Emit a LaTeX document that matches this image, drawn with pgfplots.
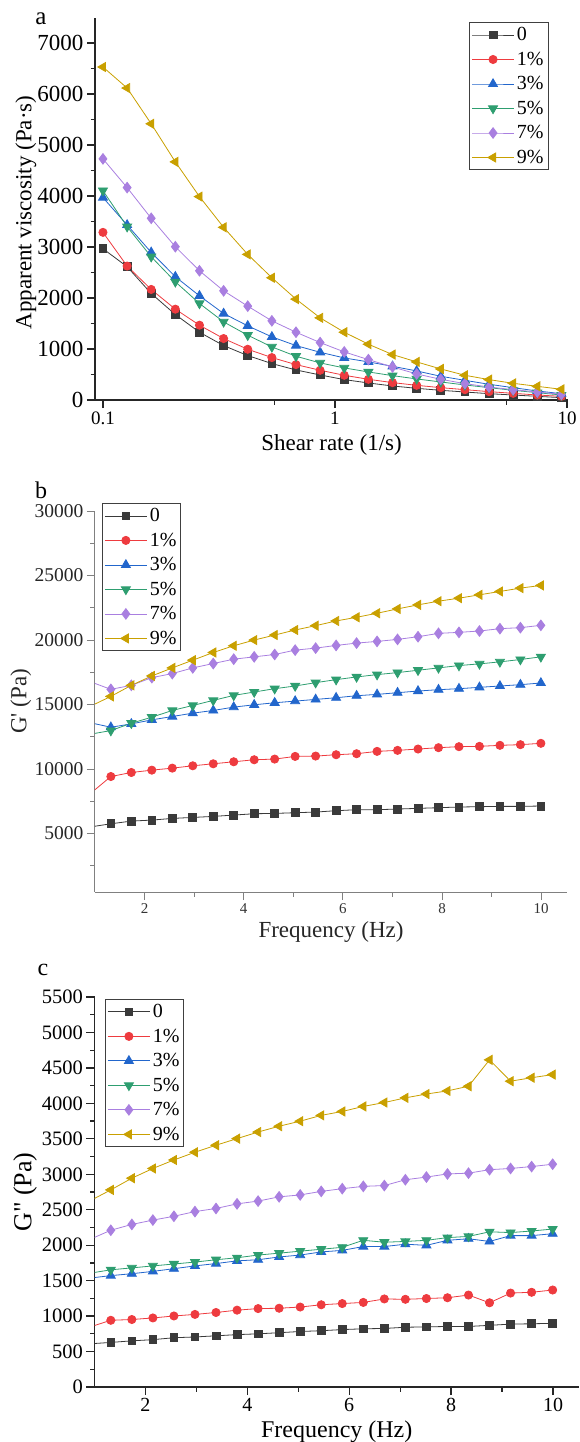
\documentclass[border=0pt]{standalone}
\usepackage{fontspec}
\setmainfont{Liberation Serif}
\usepackage{pgfplots}
\pgfplotsset{compat=1.18}
\definecolor{c0}{HTML}{3A3A3A}
\definecolor{c1}{HTML}{EE3B3F}
\definecolor{c3}{HTML}{2266CC}
\definecolor{c5}{HTML}{2E9E70}
\definecolor{c7}{HTML}{A97FE0}
\definecolor{c9}{HTML}{C9A000}
\newcommand{\fs}[1]{\fontsize{#1}{#1}\selectfont}
\newcommand{\sq}{\XeTeXglyph\XeTeXcharglyph"27\relax}
\newcommand{\dq}{\XeTeXglyph\XeTeXcharglyph"22\relax}
\pgfplotsset{
  s0/.style={color=c0, mark=square*, mark size=3.9pt, line width=0.8pt},
  s1/.style={color=c1, mark=*, mark size=4.1pt, line width=0.8pt},
  s3/.style={color=c3, mark=triangle*, mark size=5.2pt, line width=0.8pt},
  s5/.style={color=c5, mark=triangle*, mark options={rotate=180}, mark size=5.2pt, line width=0.8pt},
  s7/.style={color=c7, mark=diamond*, mark size=5.3pt, line width=0.8pt},
  s9/.style={color=c9, mark=triangle*, mark options={rotate=90}, mark size=5.2pt, line width=0.8pt},
  common/.style={
    scale only axis,
    axis x line*=bottom, axis y line*=left,
    tick align=outside,
    major tick length=8pt, minor tick length=4.5pt,
    scaled ticks=false,
    /pgf/number format/1000 sep={},
    /pgf/number format/assume math mode=true,
    legend cell align=left,
    legend image code/.code={\draw[##1,mark repeat=2,mark phase=2] plot coordinates {(0pt,0pt)(21pt,0pt)(42pt,0pt)};},
    legend style={draw=black!75, line width=1pt, font=\fs{20}, anchor=north west,
      nodes={inner sep=2.5pt}, row sep=4.7pt, inner xsep=2pt, inner ysep=2.5pt},
  },
}
\begin{document}
\begin{tikzpicture}
\path[use as bounding box] (0pt,0pt) rectangle (580pt,-1442pt);
\node[font=\fs{25}] at (41pt,-19pt) {a};
\node[font=\fs{24}] at (41pt,-490pt) {b};
\node[font=\fs{24}] at (43pt,-970pt) {c};
% ---------------- panel a
\begin{axis}[common,
  at={(95pt,-400pt)}, anchor=south west,
  width=473pt, height=382.5pt,
  xmode=log, xmin=0.0924, xmax=10.1, ymin=0, ymax=7500,
  xtick={0.1,1,10}, xticklabels={0.1,1,10}, minor xtick={0.55,5.5},
  ytick={0,1000,...,7000}, minor y tick num=1,
  axis line style={line width=1.5pt, black!85},
  every tick/.style={line width=1.3pt, black!85},
  xticklabel style={font=\fs{19}},
  yticklabel style={font=\fs{23}},
  xlabel={Shear rate (1/s)}, ylabel={Apparent viscosity (Pa·s)},
  label style={font=\fs{23}},
  xlabel style={at={(axis description cs:0.5,-0.1176)}, anchor=center},
  ylabel style={at={(axis description cs:-0.1459,0.49)}, anchor=center},
  legend style={at={(axis description cs:0.791,0.988)}},
]
\addplot[s0] coordinates {(0.1000,2967)(0.1271,2613)(0.1614,2089)(0.2051,1676)(0.2606,1329)(0.3311,1067)(0.4207,871)(0.5346,714)(0.6792,589)(0.8630,491)(1.0965,400)(1.3932,334)(1.7701,275)(2.2491,229)(2.8576,190)(3.6308,157)(4.6132,124)(5.8614,98)(7.4473,72)(9.4624,46)};
\addlegendentry{0}
\addplot[s1] coordinates {(0.1000,3287)(0.1271,2626)(0.1614,2168)(0.2051,1781)(0.2606,1467)(0.3311,1205)(0.4207,995)(0.5346,832)(0.6792,694)(0.8630,583)(1.0965,485)(1.3932,406)(1.7701,341)(2.2491,288)(2.8576,242)(3.6308,203)(4.6132,164)(5.8614,131)(7.4473,98)(9.4624,72)};
\addlegendentry{1\%}
\addplot[s3] coordinates {(0.1000,3969)(0.1271,3432)(0.1614,2895)(0.2051,2417)(0.2606,2043)(0.3311,1696)(0.4207,1454)(0.5346,1238)(0.6792,1067)(0.8630,936)(1.0965,825)(1.3932,747)(1.7701,661)(2.2491,570)(2.8576,465)(3.6308,386)(4.6132,308)(5.8614,242)(7.4473,177)(9.4624,124)};
\addlegendentry{3\%}
\addplot[s5] coordinates {(0.1000,4106)(0.1271,3399)(0.1614,2809)(0.2051,2318)(0.2606,1893)(0.3311,1532)(0.4207,1270)(0.5346,1041)(0.6792,858)(0.8630,727)(1.0965,629)(1.3932,550)(1.7701,478)(2.2491,413)(2.8576,354)(3.6308,295)(4.6132,242)(5.8614,190)(7.4473,144)(9.4624,98)};
\addlegendentry{5\%}
\addplot[s7] coordinates {(0.1000,4728)(0.1271,4165)(0.1614,3563)(0.2051,3006)(0.2606,2534)(0.3311,2141)(0.4207,1840)(0.5346,1552)(0.6792,1329)(0.8630,1126)(1.0965,943)(1.3932,792)(1.7701,648)(2.2491,511)(2.8576,406)(3.6308,321)(4.6132,255)(5.8614,203)(7.4473,157)(9.4624,111)};
\addlegendentry{7\%}
\addplot[s9] coordinates {(0.1000,6529)(0.1271,6117)(0.1614,5416)(0.2051,4669)(0.2606,3988)(0.3311,3386)(0.4207,2855)(0.5346,2397)(0.6792,1978)(0.8630,1611)(1.0965,1329)(1.3932,1094)(1.7701,891)(2.2491,747)(2.8576,609)(3.6308,485)(4.6132,400)(5.8614,327)(7.4473,268)(9.4624,210)};
\addlegendentry{9\%}
\end{axis}
% ---------------- panel b
\begin{axis}[common,
  at={(95pt,-892pt)}, anchor=south west,
  width=472pt, height=381pt,
  xmin=1, xmax=10.52, ymin=465, ymax=30000,
  xtick={2,4,6,8,10}, minor xtick={3,5,7,9},
  ytick={5000,10000,...,30000}, minor ytick={2500,7500,...,27500},
  axis line style={line width=1pt, black!50},
  every tick/.style={line width=1pt, black!50},
  xticklabel style={font=\fs{15}, black!80},
  yticklabel style={font=\fs{19.5}, black!85},
  xlabel={Frequency (Hz)}, ylabel={G\sq\ (Pa)},
  label style={font=\fs{23}, black!85},
  xlabel style={at={(axis description cs:0.5,-0.105)}, anchor=center},
  ylabel style={at={(axis description cs:-0.157,0.5)}, anchor=center},
  legend style={at={(axis description cs:0.0148,1.021)}},
]
\addplot[s0] coordinates {(0.907,5511)(1.320,5754)(1.733,5962)(2.146,6040)(2.559,6170)(2.972,6247)(3.385,6325)(3.798,6429)(4.211,6533)(4.624,6559)(5.037,6611)(5.450,6663)(5.863,6767)(6.276,6845)(6.689,6845)(7.102,6897)(7.515,6949)(7.928,7001)(8.341,7053)(8.754,7079)(9.167,7105)(9.580,7105)(9.993,7131)};
\addlegendentry{0}
\addplot[s1] coordinates {(0.907,8099)(1.320,9418)(1.733,9730)(2.146,9911)(2.559,10068)(2.972,10250)(3.385,10405)(3.798,10561)(4.211,10717)(4.624,10769)(5.037,10977)(5.450,11003)(5.863,11107)(6.276,11185)(6.689,11367)(7.102,11445)(7.515,11549)(7.928,11653)(8.341,11731)(8.754,11757)(9.167,11835)(9.580,11887)(9.993,11991)};
\addlegendentry{1\%}
\addplot[s3] coordinates {(0.907,13585)(1.320,13238)(1.733,13498)(2.146,13810)(2.559,14070)(2.972,14330)(3.385,14538)(3.798,14798)(4.211,14979)(4.624,15135)(5.037,15265)(5.450,15395)(5.863,15525)(6.276,15681)(6.689,15785)(7.102,15915)(7.515,16045)(7.928,16149)(8.341,16227)(8.754,16331)(9.167,16435)(9.580,16538)(9.993,16668)};
\addlegendentry{3\%}
\addplot[s5] coordinates {(0.907,12700)(1.320,12979)(1.733,13550)(2.146,14018)(2.559,14538)(2.972,14927)(3.385,15317)(3.798,15707)(4.211,15967)(4.624,16227)(5.037,16435)(5.450,16694)(5.863,16928)(6.276,17136)(6.689,17318)(7.102,17474)(7.515,17656)(7.928,17838)(8.341,18020)(8.754,18150)(9.167,18306)(9.580,18488)(9.993,18695)};
\addlegendentry{5\%}
\addplot[s7] coordinates {(0.907,16765)(1.320,16175)(1.733,16487)(2.146,17084)(2.559,17396)(2.972,17838)(3.385,18176)(3.798,18514)(4.211,18695)(4.624,18877)(5.037,19215)(5.450,19371)(5.863,19579)(6.276,19761)(6.689,19891)(7.102,20047)(7.515,20255)(7.928,20515)(8.341,20593)(8.754,20697)(9.167,20879)(9.580,20957)(9.993,21138)};
\addlegendentry{7\%}
\addplot[s9] coordinates {(0.907,14865)(1.320,15629)(1.733,16487)(2.146,17214)(2.559,17838)(2.972,18436)(3.385,19033)(3.798,19553)(4.211,19995)(4.624,20385)(5.037,20775)(5.450,21112)(5.863,21476)(6.276,21762)(6.689,22074)(7.102,22412)(7.515,22724)(7.928,23009)(8.341,23243)(8.754,23503)(9.167,23763)(9.580,24023)(9.993,24231)};
\addlegendentry{9\%}
\end{axis}
% ---------------- panel c
\begin{axis}[common,
  at={(94.5pt,-1387pt)}, anchor=south west,
  width=484.5pt, height=390pt,
  xmin=1, xmax=10.51, ymin=0, ymax=5500,
  xtick={2,4,6,8,10}, minor xtick={3,5,7,9},
  ytick={0,500,...,5500}, minor y tick num=1,
  axis line style={line width=1.6pt, black!85},
  every tick/.style={line width=1.3pt, black!85},
  xticklabel style={font=\fs{20}},
  yticklabel style={font=\fs{20.5}},
  xlabel={Frequency (Hz)}, ylabel={G\dq\ (Pa)},
  xlabel style={font=\fs{24}, at={(axis description cs:0.5,-0.115)}, anchor=center},
  ylabel style={font=\fs{26}, at={(axis description cs:-0.1434,0.5)}, anchor=center},
  legend style={at={(axis description cs:0.0217,0.995)}},
]
\addplot[s0] coordinates {(0.907,609)(1.320,629)(1.733,651)(2.146,668)(2.559,695)(2.972,706)(3.385,722)(3.798,739)(4.211,750)(4.624,766)(5.037,783)(5.450,794)(5.863,810)(6.276,821)(6.689,826)(7.102,843)(7.515,848)(7.928,854)(8.341,854)(8.754,870)(9.167,887)(9.580,892)(9.993,898)};
\addlegendentry{0}
\addplot[s1] coordinates {(0.907,846)(1.320,941)(1.733,952)(2.146,974)(2.559,1002)(2.972,1024)(3.385,1051)(3.798,1084)(4.211,1106)(4.624,1111)(5.037,1128)(5.450,1160)(5.863,1177)(6.276,1193)(6.689,1242)(7.102,1237)(7.515,1248)(7.928,1259)(8.341,1297)(8.754,1188)(9.167,1325)(9.580,1336)(9.993,1368)};
\addlegendentry{1\%}
\addplot[s3] coordinates {(0.907,1536)(1.320,1571)(1.733,1598)(2.146,1631)(2.559,1669)(2.972,1708)(3.385,1741)(3.798,1779)(4.211,1795)(4.624,1834)(5.037,1861)(5.450,1905)(5.863,1927)(6.276,1981)(6.689,1981)(7.102,2014)(7.515,1998)(7.928,2069)(8.341,2091)(8.754,2053)(9.167,2135)(9.580,2135)(9.993,2162)};
\addlegendentry{3\%}
\addplot[s5] coordinates {(0.907,1605)(1.320,1653)(1.733,1680)(2.146,1708)(2.559,1735)(2.972,1762)(3.385,1795)(3.798,1823)(4.211,1861)(4.624,1888)(5.037,1916)(5.450,1943)(5.863,1970)(6.276,2069)(6.689,2042)(7.102,2053)(7.515,2069)(7.928,2107)(8.341,2124)(8.754,2189)(9.167,2178)(9.580,2200)(9.993,2228)};
\addlegendentry{5\%}
\addplot[s7] coordinates {(0.907,2081)(1.320,2211)(1.733,2293)(2.146,2354)(2.559,2408)(2.972,2474)(3.385,2518)(3.798,2583)(4.211,2622)(4.624,2682)(5.037,2709)(5.450,2759)(5.863,2797)(6.276,2830)(6.689,2841)(7.102,2923)(7.515,2961)(7.928,3005)(8.341,3016)(8.754,3065)(9.167,3082)(9.580,3109)(9.993,3142)};
\addlegendentry{7\%}
\addplot[s9] coordinates {(0.907,2624)(1.320,2780)(1.733,2945)(2.146,3082)(2.559,3202)(2.972,3311)(3.385,3410)(3.798,3503)(4.211,3596)(4.624,3678)(5.037,3749)(5.450,3831)(5.863,3886)(6.276,3957)(6.689,4012)(7.102,4078)(7.515,4132)(7.928,4176)(8.341,4242)(8.754,4614)(9.167,4313)(9.580,4362)(9.993,4406)};
\addlegendentry{9\%}
\end{axis}
\end{tikzpicture}
\end{document}
